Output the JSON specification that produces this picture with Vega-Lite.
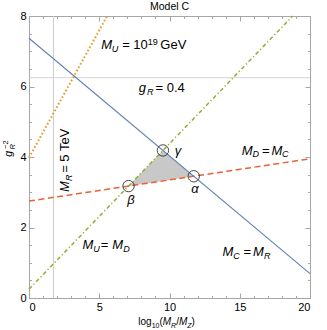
{
  "$schema": "https://vega.github.io/schema/vega-lite/v6.json",
  "width": 281,
  "height": 282,
  "autosize": {"type": "none"},
  "padding": {"left": 29, "top": 16, "right": 17, "bottom": 32},
  "config": {
    "view": {"stroke": "#a6a6a6", "strokeWidth": 1},
    "axis": {"domain": false, "grid": false, "labelFont": "Liberation Sans", "labelFontSize": 11, "labelColor": "black", "tickColor": "#a6a6a6", "tickWidth": 1},
    "text": {"font": "Liberation Sans", "color": "black"}
  },
  "resolve": {"axis": {"x": "independent", "y": "independent"}},
  "datasets": {
    "lines": [
      {"s": "blue", "x": 0, "y": 7.37}, {"s": "blue", "x": 20, "y": 0.69},
      {"s": "orange", "x": 0, "y": 3.98}, {"s": "orange", "x": 5.56, "y": 8},
      {"s": "green", "x": 0, "y": 0.25}, {"s": "green", "x": 18.77, "y": 8},
      {"s": "red", "x": 0, "y": 2.75}, {"s": "red", "x": 20, "y": 3.95}
    ],
    "labels": [
      {"t": "Model C", "x": 10, "y": 8.184, "k": "title"},
      {"t": "M", "x": 5.15, "y": 7.05, "k": "it13"},
      {"t": "U", "x": 5.89, "y": 6.97, "k": "sub9"},
      {"t": "= 10", "x": 6.63, "y": 7.05, "k": "rm13"},
      {"t": "19", "x": 8.46, "y": 7.19, "k": "sup9"},
      {"t": "GeV", "x": 9.35, "y": 7.05, "k": "rm13"},
      {"t": "g", "x": 7.82, "y": 5.83, "k": "it13"},
      {"t": "R", "x": 8.39, "y": 5.745, "k": "sub9"},
      {"t": "= 0.4", "x": 9.0, "y": 5.83, "k": "rm13"},
      {"t": "M", "x": 15.14, "y": 4.07, "k": "it13"},
      {"t": "D", "x": 15.91, "y": 3.99, "k": "sub9"},
      {"t": "=", "x": 16.59, "y": 4.07, "k": "rm13"},
      {"t": "M", "x": 17.26, "y": 4.07, "k": "it13"},
      {"t": "C", "x": 18.01, "y": 3.99, "k": "sub9"},
      {"t": "M", "x": 3.81, "y": 1.38, "k": "it13"},
      {"t": "U", "x": 4.58, "y": 1.3, "k": "sub9"},
      {"t": "=", "x": 5.11, "y": 1.38, "k": "rm13"},
      {"t": "M", "x": 5.92, "y": 1.38, "k": "it13"},
      {"t": "D", "x": 6.71, "y": 1.3, "k": "sub9"},
      {"t": "M", "x": 13.78, "y": 1.2, "k": "it13"},
      {"t": "C", "x": 14.54, "y": 1.11, "k": "sub9"},
      {"t": "=", "x": 15.27, "y": 1.2, "k": "rm13"},
      {"t": "M", "x": 15.94, "y": 1.2, "k": "it13"},
      {"t": "R", "x": 16.73, "y": 1.11, "k": "sub9"},
      {"t": "γ", "x": 10.6, "y": 4.16, "k": "greek"},
      {"t": "β", "x": 7.25, "y": 2.78, "k": "greek"},
      {"t": "α", "x": 11.81, "y": 3.1, "k": "greek"},
      {"t": "M", "x": 2.85, "y": 3.01, "k": "vit13"},
      {"t": "R", "x": 3.04, "y": 3.32, "k": "vsub9"},
      {"t": "= 5 TeV", "x": 2.85, "y": 3.55, "k": "vrm13"},
      {"t": "g", "x": -1.2, "y": 4.01, "k": "yit"},
      {"t": "R", "x": -0.98, "y": 4.21, "k": "ysub"},
      {"t": "−2", "x": -1.52, "y": 4.23, "k": "ysup"},
      {"t": "log", "x": 7.78, "y": -0.77, "k": "xrm"},
      {"t": "10", "x": 8.73, "y": -0.84, "k": "xsub"},
      {"t": "(", "x": 9.29, "y": -0.77, "k": "xrm"},
      {"t": "M", "x": 9.52, "y": -0.77, "k": "xit"},
      {"t": "R", "x": 10.11, "y": -0.84, "k": "xitsub"},
      {"t": "/", "x": 10.48, "y": -0.77, "k": "xrm"},
      {"t": "M", "x": 10.68, "y": -0.77, "k": "xit"},
      {"t": "Z", "x": 11.27, "y": -0.84, "k": "xitsub"},
      {"t": ")", "x": 11.57, "y": -0.77, "k": "xrm"}
    ]
  },
  "layer": [
    {
      "data": {"values": [{"y": 6.25}]},
      "mark": {"type": "rule", "color": "#d4d4d4", "strokeWidth": 1},
      "encoding": {"y": {"field": "y", "type": "quantitative", "axis": null, "scale": {"domain": [0, 8], "nice": false}}}
    },
    {
      "data": {"values": [{"x": 1.74}]},
      "mark": {"type": "rule", "color": "#cccccc", "strokeWidth": 1},
      "encoding": {"x": {"field": "x", "type": "quantitative", "axis": null, "scale": {"domain": [0, 20], "nice": false}}}
    },
    {
      "data": {"values": [
        {"x": 7.084, "y": 3.175, "y2": 3.175},
        {"x": 9.533, "y": 4.186, "y2": 3.322},
        {"x": 11.726, "y": 3.454, "y2": 3.454}
      ]},
      "mark": {"type": "area", "color": "#c8c8c8", "opacity": 1},
      "encoding": {
        "x": {"field": "x", "type": "quantitative", "scale": {"domain": [0, 20], "nice": false}, "axis": {"orient": "bottom", "values": [0, 5, 10, 15, 20], "ticks": false, "labelPadding": 3, "title": null}},
        "y": {"field": "y", "type": "quantitative", "scale": {"domain": [0, 8], "nice": false}, "axis": {"orient": "left", "values": [0, 2, 4, 6, 8], "ticks": false, "labelPadding": 3, "title": null}},
        "y2": {"field": "y2"}
      }
    },
    {
      "data": {"name": "lines"},
      "transform": [{"filter": "datum.s === 'green'"}],
      "mark": {"type": "line", "color": "#8FB032", "strokeWidth": 1.5, "strokeDash": [4, 2.5, 1.2, 2.5]},
      "encoding": {
        "x": {"field": "x", "type": "quantitative", "scale": {"domain": [0, 20], "nice": false}, "axis": {"orient": "top", "values": [0, 5, 10, 15, 20], "tickSize": -5, "labels": false, "title": null}},
        "y": {"field": "y", "type": "quantitative", "scale": {"domain": [0, 8], "nice": false}, "axis": {"orient": "right", "values": [0, 2, 4, 6, 8], "tickSize": -5, "labels": false, "title": null}}
      }
    },
    {
      "data": {"name": "lines"},
      "transform": [{"filter": "datum.s === 'orange'"}],
      "mark": {"type": "line", "color": "#E19C24", "strokeWidth": 2, "strokeDash": [1.6, 2.2]},
      "encoding": {
        "x": {"field": "x", "type": "quantitative", "scale": {"domain": [0, 20], "nice": false}, "axis": {"orient": "top", "values": [0,1,2,3,4,5,6,7,8,9,10,11,12,13,14,15,16,17,18,19,20], "tickSize": -2.5, "labels": false, "title": null}},
        "y": {"field": "y", "type": "quantitative", "scale": {"domain": [0, 8], "nice": false}, "axis": {"orient": "right", "values": [0,0.5,1,1.5,2,2.5,3,3.5,4,4.5,5,5.5,6,6.5,7,7.5,8], "tickSize": -2.5, "labels": false, "title": null}}
      }
    },
    {
      "data": {"name": "lines"},
      "transform": [{"filter": "datum.s === 'red'"}],
      "mark": {"type": "line", "color": "#EB6235", "strokeWidth": 1.5, "strokeDash": [6, 3.5]},
      "encoding": {
        "x": {"field": "x", "type": "quantitative", "scale": {"domain": [0, 20], "nice": false}, "axis": {"orient": "bottom", "values": [0,1,2,3,4,5,6,7,8,9,10,11,12,13,14,15,16,17,18,19,20], "tickSize": -2.5, "labels": false, "title": null}},
        "y": {"field": "y", "type": "quantitative", "scale": {"domain": [0, 8], "nice": false}, "axis": {"orient": "left", "values": [0,0.5,1,1.5,2,2.5,3,3.5,4,4.5,5,5.5,6,6.5,7,7.5,8], "tickSize": -2.5, "labels": false, "title": null}}
      }
    },
    {
      "data": {"name": "lines"},
      "transform": [{"filter": "datum.s === 'blue'"}],
      "mark": {"type": "line", "color": "#5E81B5", "strokeWidth": 1.1},
      "encoding": {
        "x": {"field": "x", "type": "quantitative", "scale": {"domain": [0, 20], "nice": false}, "axis": {"orient": "bottom", "values": [0, 5, 10, 15, 20], "tickSize": -5, "labels": false, "title": null}},
        "y": {"field": "y", "type": "quantitative", "scale": {"domain": [0, 8], "nice": false}, "axis": {"orient": "left", "values": [0, 2, 4, 6, 8], "tickSize": -5, "labels": false, "title": null}}
      }
    },
    {
      "data": {"values": [
        {"p": "gamma", "x": 9.533, "y": 4.186},
        {"p": "beta", "x": 7.084, "y": 3.175},
        {"p": "alpha", "x": 11.726, "y": 3.454}
      ]},
      "mark": {"type": "point", "shape": "circle", "filled": false, "size": 130, "stroke": "#333333", "strokeWidth": 0.9, "opacity": 1},
      "encoding": {
        "x": {"field": "x", "type": "quantitative", "axis": null, "scale": {"domain": [0, 20], "nice": false}},
        "y": {"field": "y", "type": "quantitative", "axis": null, "scale": {"domain": [0, 8], "nice": false}}
      }
    },
    {
      "data": {"name": "labels"}, "transform": [{"filter": "datum.k === 'title'"}],
      "mark": {"type": "text", "fontSize": 10.5, "align": "center", "baseline": "alphabetic"},
      "encoding": {"x": {"field": "x", "type": "quantitative", "axis": null}, "y": {"field": "y", "type": "quantitative", "axis": null}, "text": {"field": "t"}}
    },
    {
      "data": {"name": "labels"}, "transform": [{"filter": "datum.k === 'it13'"}],
      "mark": {"type": "text", "fontSize": 13, "fontStyle": "italic", "align": "left", "baseline": "alphabetic"},
      "encoding": {"x": {"field": "x", "type": "quantitative", "axis": null}, "y": {"field": "y", "type": "quantitative", "axis": null}, "text": {"field": "t"}}
    },
    {
      "data": {"name": "labels"}, "transform": [{"filter": "datum.k === 'sub9'"}],
      "mark": {"type": "text", "fontSize": 9, "fontStyle": "italic", "align": "left", "baseline": "alphabetic"},
      "encoding": {"x": {"field": "x", "type": "quantitative", "axis": null}, "y": {"field": "y", "type": "quantitative", "axis": null}, "text": {"field": "t"}}
    },
    {
      "data": {"name": "labels"}, "transform": [{"filter": "datum.k === 'rm13'"}],
      "mark": {"type": "text", "fontSize": 13, "align": "left", "baseline": "alphabetic"},
      "encoding": {"x": {"field": "x", "type": "quantitative", "axis": null}, "y": {"field": "y", "type": "quantitative", "axis": null}, "text": {"field": "t"}}
    },
    {
      "data": {"name": "labels"}, "transform": [{"filter": "datum.k === 'sup9'"}],
      "mark": {"type": "text", "fontSize": 9, "align": "left", "baseline": "alphabetic"},
      "encoding": {"x": {"field": "x", "type": "quantitative", "axis": null}, "y": {"field": "y", "type": "quantitative", "axis": null}, "text": {"field": "t"}}
    },
    {
      "data": {"name": "labels"}, "transform": [{"filter": "datum.k === 'greek'"}],
      "mark": {"type": "text", "fontSize": 13, "fontStyle": "italic", "align": "center", "baseline": "middle"},
      "encoding": {"x": {"field": "x", "type": "quantitative", "axis": null}, "y": {"field": "y", "type": "quantitative", "axis": null}, "text": {"field": "t"}}
    },
    {
      "data": {"name": "labels"}, "transform": [{"filter": "datum.k === 'vit13'"}],
      "mark": {"type": "text", "fontSize": 13, "fontStyle": "italic", "align": "left", "baseline": "alphabetic", "angle": 270},
      "encoding": {"x": {"field": "x", "type": "quantitative", "axis": null}, "y": {"field": "y", "type": "quantitative", "axis": null}, "text": {"field": "t"}}
    },
    {
      "data": {"name": "labels"}, "transform": [{"filter": "datum.k === 'vsub9'"}],
      "mark": {"type": "text", "fontSize": 9, "fontStyle": "italic", "align": "left", "baseline": "alphabetic", "angle": 270},
      "encoding": {"x": {"field": "x", "type": "quantitative", "axis": null}, "y": {"field": "y", "type": "quantitative", "axis": null}, "text": {"field": "t"}}
    },
    {
      "data": {"name": "labels"}, "transform": [{"filter": "datum.k === 'vrm13'"}],
      "mark": {"type": "text", "fontSize": 13, "align": "left", "baseline": "alphabetic", "angle": 270},
      "encoding": {"x": {"field": "x", "type": "quantitative", "axis": null}, "y": {"field": "y", "type": "quantitative", "axis": null}, "text": {"field": "t"}}
    },
    {
      "data": {"name": "labels"}, "transform": [{"filter": "datum.k === 'yit'"}],
      "mark": {"type": "text", "fontSize": 10.5, "fontStyle": "italic", "align": "left", "baseline": "alphabetic", "angle": 270},
      "encoding": {"x": {"field": "x", "type": "quantitative", "axis": null}, "y": {"field": "y", "type": "quantitative", "axis": null}, "text": {"field": "t"}}
    },
    {
      "data": {"name": "labels"}, "transform": [{"filter": "datum.k === 'ysub'"}],
      "mark": {"type": "text", "fontSize": 7.5, "fontStyle": "italic", "align": "left", "baseline": "alphabetic", "angle": 270},
      "encoding": {"x": {"field": "x", "type": "quantitative", "axis": null}, "y": {"field": "y", "type": "quantitative", "axis": null}, "text": {"field": "t"}}
    },
    {
      "data": {"name": "labels"}, "transform": [{"filter": "datum.k === 'ysup'"}],
      "mark": {"type": "text", "fontSize": 7.5, "align": "left", "baseline": "alphabetic", "angle": 270},
      "encoding": {"x": {"field": "x", "type": "quantitative", "axis": null}, "y": {"field": "y", "type": "quantitative", "axis": null}, "text": {"field": "t"}}
    },
    {
      "data": {"name": "labels"}, "transform": [{"filter": "datum.k === 'xrm'"}],
      "mark": {"type": "text", "fontSize": 10, "align": "left", "baseline": "alphabetic"},
      "encoding": {"x": {"field": "x", "type": "quantitative", "axis": null}, "y": {"field": "y", "type": "quantitative", "axis": null}, "text": {"field": "t"}}
    },
    {
      "data": {"name": "labels"}, "transform": [{"filter": "datum.k === 'xsub'"}],
      "mark": {"type": "text", "fontSize": 7, "align": "left", "baseline": "alphabetic"},
      "encoding": {"x": {"field": "x", "type": "quantitative", "axis": null}, "y": {"field": "y", "type": "quantitative", "axis": null}, "text": {"field": "t"}}
    },
    {
      "data": {"name": "labels"}, "transform": [{"filter": "datum.k === 'xit'"}],
      "mark": {"type": "text", "fontSize": 10, "fontStyle": "italic", "align": "left", "baseline": "alphabetic"},
      "encoding": {"x": {"field": "x", "type": "quantitative", "axis": null}, "y": {"field": "y", "type": "quantitative", "axis": null}, "text": {"field": "t"}}
    },
    {
      "data": {"name": "labels"}, "transform": [{"filter": "datum.k === 'xitsub'"}],
      "mark": {"type": "text", "fontSize": 7, "fontStyle": "italic", "align": "left", "baseline": "alphabetic"},
      "encoding": {"x": {"field": "x", "type": "quantitative", "axis": null}, "y": {"field": "y", "type": "quantitative", "axis": null}, "text": {"field": "t"}}
    }
  ]
}
